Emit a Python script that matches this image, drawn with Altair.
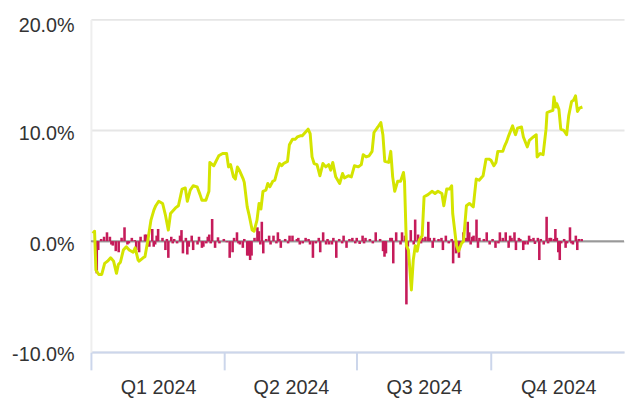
import altair as alt
import pandas as pd
import numpy as np

# Daily returns (%) by day of year 2024 (1 = Jan 1)
bar_day = [5,6,10,12,14,15,16,18,20,22,24,27,31,32,34,35,38,39,41,43,
           44,46,47,52,54,56,58,60,62,63,64,67,68,70,71,75,77,78,81,82,
           83,84,86,88,94,96,98,101,103,105,108,109,110,111,115,116,118,119,123,124,
           126,129,131,137,139,143,144,148,151,153,158,160,162,164,166,167,169,174,176,183,
           185,187,189,196,201,202,203,206,208,210,214,217,218,220,223,225,228,232,235,236,
           242,244,249,251,253,256,259,260,261,263,265,266,272,274,278,281,285,287,288,291,
           292,294,297,298,301,305,307,308,311,313,315,319,321,322,326,329,331,333,334,337,
           # small moves near zero
           8,26,29,40,45,50,53,57,66,74,80,89,92,99,102,106,113,117,121,128,
           130,134,136,142,146,150,155,157,163,171,173,178,180,182,188,192,194,199,207,213,
           216,222,227,230,233,239,241,246,248,254,258,262,267,270,276,280,283,289,295,300,
           302,304,309,314,316,318,320,323,325,327,330,335]
bar_value = [-2.9,-0.8,0.4,0.8,0.4,-0.3,-0.4,-0.9,-1.0,0.3,1.25,-0.2,0.1,-0.8,-1.0,0.4,0.6,0.6,-0.5,1.1,
             -0.5,0.5,1.1,-0.8,-1.5,0.4,0.2,-0.2,0.5,1.0,-1.1,-1.2,-0.5,0.5,-0.8,0.4,-0.6,-0.5,0.4,0.6,
             -0.2,2.0,-0.6,0.35,-0.1,-1.5,-1.0,0.8,-0.3,-0.6,-1.3,-1.3,-1.7,-1.3,1.25,0.9,1.75,-1.1,0.5,-0.3,
             0.5,0.8,-0.6,0.5,0.5,0.3,-0.3,0.3,-0.3,-1.5,-1.0,0.8,-0.3,-0.3,-0.3,0.3,-1.5,0.5,-0.6,0.3,
             -0.25,0.5,0.3,0.8,-0.9,-1.4,-1.1,0.3,-2.0,0.8,0.8,-5.7,-0.5,1.0,1.95,0.6,0.3,1.75,-0.6,0.3,
             -0.8,0.5,-2.0,-1.1,-1.5,0.8,1.75,0.8,-0.3,0.5,1.95,-0.6,0.8,-0.3,-0.6,0.8,0.8,-0.6,0.5,0.8,
             -0.8,0.3,-0.8,-0.3,0.5,-0.25,0.3,-1.7,-0.3,2.2,0.3,1.1,-1.0,-1.7,-0.6,1.25,-0.3,0.5,-0.8,0.2,
             # small moves near zero
             0.2,-0.3,0.3,0.2,-0.3,0.3,0.2,-0.2,0.3,-0.3,-0.2,-0.2,0.2,0.3,-0.2,0.2,0.3,-0.3,0.2,-0.2,
             0.2,0.2,-0.2,0.2,-0.2,0.2,-0.2,0.3,0.2,0.2,-0.2,0.2,0.3,-0.2,-0.2,0.2,-0.2,0.2,0.3,-0.3,
             0.5,-0.3,-0.2,0.4,0.3,0.2,0.3,-0.2,0.2,-0.3,0.3,0.4,0.3,0.2,0.2,-0.2,0.3,0.3,0.2,-0.3,
             0.2,0.3,0.2,-0.2,0.3,0.2,0.3,-0.2,0.2,-0.2,-0.2,0.2]

# Cumulative return (%) by day of year 2024
line_day = [2.3,3.5,4.4,6.4,8.4,10.4,12.4,14.5,16.5,18.5,19.8,21.2,23.2,25.2,27.2,29.9,31.3,33.3,34.0,36.7,
            38.0,40.0,42.1,44.1,45.4,47.4,50.1,52.1,54.0,55.5,58.9,60.9,63.4,65.6,67.0,69.0,71.0,73.7,75.7,77.0,
            79.7,81.8,82.4,85.1,88.5,91.2,93.9,95.2,96.6,98.6,99.9,101.3,102.6,105.3,106.0,108.0,109.4,111.4,112.7,114.7,
            116.1,117.4,118.8,120.8,122.1,123.5,125.5,126.9,128.9,130.2,131.6,132.9,135.6,136.9,139.0,141.0,142.3,144.3,145.7,147.7,
            149.7,151.1,152.4,153.8,155.8,157.8,159.8,161.8,163.8,165.2,166.6,168.6,171.3,173.3,174.6,177.3,179.3,181.4,184.1,186.1,
            187.4,189.4,191.5,193.5,194.8,197.5,199.5,200.9,202.2,204.9,206.3,207.6,209.0,211.0,213.0,215.0,215.7,217.0,218.4,220.4,
            221.7,223.1,224.4,225.8,227.8,229.1,231.8,234.5,236.6,238.6,241.3,242.6,244.6,246.6,248.0,248.7,251.3,252.7,254.7,256.1,
            258.1,260.1,262.8,263.5,264.8,266.8,269.5,271.5,273.6,274.9,276.9,278.3,279.6,283.0,284.3,285.7,287.0,289.7,291.1,291.7,
            293.1,295.8,297.1,299.8,301.2,303.9,305.9,306.5,308.6,310.6,312.6,313.3,315.3,317.3,318.0,319.3,320.0,321.4,322.7,324.7,
            326.7,328.1,330.1,331.4,332.8,334.1,335.5,337.5]
line_value = [0.7,0.9,-2.6,-3.0,-3.0,-2.0,-1.8,-1.5,-1.8,-2.9,-2.1,-1.9,-0.8,-0.5,-0.8,-1.0,-0.6,-1.7,-1.8,-1.5,
              -1.4,0.1,1.9,2.8,3.2,3.6,3.4,2.3,1.0,2.5,3.0,3.2,4.7,4.8,3.6,4.6,5.0,4.9,4.2,3.7,
              3.7,4.5,7.1,6.8,7.7,7.9,7.9,6.7,6.9,5.8,5.6,6.7,6.4,5.6,5.3,3.1,2.3,1.0,0.9,1.9,
              3.4,2.9,4.5,4.6,5.2,4.9,5.4,5.5,6.5,7.0,6.8,7.0,7.2,8.7,9.2,9.2,9.4,9.5,9.5,9.8,
              10.1,9.7,7.6,7.0,6.9,5.9,7.0,6.7,6.9,6.4,7.1,5.8,5.2,6.1,5.7,5.9,5.8,6.8,6.7,6.9,
              7.8,7.6,7.7,8.1,9.8,10.3,10.7,9.6,7.2,7.1,8.1,5.8,4.5,5.4,5.4,6.2,5.4,-0.4,-0.8,-4.4,
              -1.7,-0.4,-0.9,0.1,0.5,4.0,4.2,4.5,4.3,4.5,4.3,3.2,4.7,4.7,5.0,2.5,-0.4,-0.9,-0.2,0.0,
              3.2,3.4,3.1,4.0,5.6,5.5,5.9,7.4,7.4,7.3,6.8,7.1,8.1,8.1,8.6,9.0,9.5,10.4,9.8,9.6,
              10.2,10.3,9.4,8.5,9.1,9.4,9.6,7.6,7.9,7.8,10.1,11.6,11.7,11.8,13.0,12.1,12.4,11.9,10.1,10.0,
              9.6,11.3,12.6,12.7,13.1,11.7,12.0,12.1]

y_ticks = [-10, 0, 10, 20]

start = pd.Timestamp("2024-01-01")
bars = pd.DataFrame({
    "date": start + pd.to_timedelta(np.array(bar_day) - 1, unit="D"),
    "value": bar_value,
})
line = pd.DataFrame({
    "date": start + pd.to_timedelta(np.array(line_day) - 1, unit="D"),
    "value": line_value,
})

FONT = "Liberation Sans"
TEXT = "#333333"

x_scale = alt.Scale(domain=[alt.DateTime(year=2024, month=1, date=1),
                            alt.DateTime(year=2024, month=12, date=31)],
                    padding=0)
y_scale = alt.Scale(domain=[-10, 20], nice=False, padding=0)

x_enc = alt.X(
    "date:T",
    scale=x_scale,
    axis=alt.Axis(
        values=[alt.DateTime(year=2024, month=m, date=1) for m in (1, 4, 7, 10)],
        labelExpr="'Q' + (floor(month(datum.value) / 3) + 1) + ' ' + year(datum.value)",
        labelOffset=68,
        labelFlush=False,
        labelOverlap=False,
        labelBound=False,
        tickSize=18,
        tickColor="#ccd6eb",
        tickWidth=2,
        domainColor="#ccd6eb",
        domainWidth=2,
        grid=False,
        title=None,
        labelFontSize=20,
        labelFont=FONT,
        labelColor=TEXT,
        labelPadding=8,
    ),
)

y_enc = alt.Y(
    "value:Q",
    scale=y_scale,
    axis=alt.Axis(
        values=y_ticks,
        labelExpr="(datum.value < 0 ? '-' : '') + format(abs(datum.value), '.1f') + '%'",
        grid=True,
        gridColor="#e6e6e6",
        gridWidth=2,
        ticks=False,
        domain=True,
        domainColor="#eeeeee",
        domainWidth=2,
        labelPadding=17,
        labelFontSize=20,
        labelFont=FONT,
        labelColor=TEXT,
        labelBaseline="middle",
        labelOffset=alt.condition("datum.value == 20", alt.value(6), alt.value(3)),
        title=None,
    ),
)

zero = alt.Chart(pd.DataFrame({"v": [0]})).mark_rule(color="#999999", strokeWidth=2).encode(
    y=alt.Y("v:Q", scale=y_scale)
)

bar_chart = alt.Chart(bars).mark_bar(color="#c51b5a", size=2.6).encode(
    x=x_enc,
    y=y_enc,
    y2=alt.datum(0),
)

line_chart = alt.Chart(line).mark_line(color="#d4e400", strokeWidth=3, strokeJoin="round").encode(
    x=x_enc,
    y=alt.Y("value:Q", scale=y_scale),
)

chart = alt.layer(zero, bar_chart, line_chart).properties(
    width=540,
    height=337,
    autosize=alt.AutoSizeParams(type="none"),
    padding={"left": 84, "top": 9, "right": 2, "bottom": 46},
).configure_view(stroke=None)

chart.save("out.html", embed_options={"renderer": "svg", "actions": False})
